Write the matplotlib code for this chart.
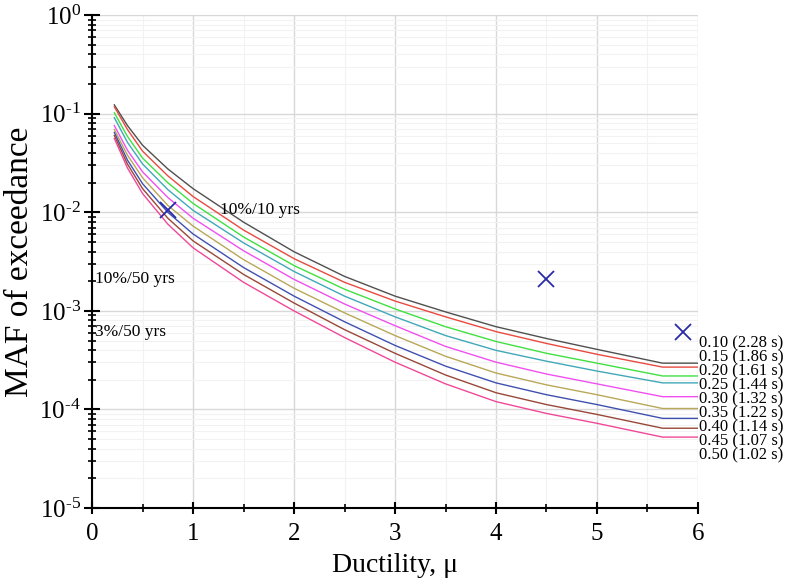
import numpy as np
import matplotlib
matplotlib.use("Agg")
import matplotlib.pyplot as plt
from matplotlib.ticker import LogLocator, MultipleLocator, FuncFormatter, NullFormatter

plt.rcParams["font.family"] = ["Liberation Serif", "DejaVu Serif"]
plt.rcParams["mathtext.fontset"] = "custom"
plt.rcParams["mathtext.rm"] = "Liberation Serif"
plt.rcParams["mathtext.it"] = "Liberation Serif:italic"

# ductility points where the curves were read
ductility = [0.22, 0.35, 0.5, 0.75, 1.0, 1.5, 2.0, 2.5, 3.0, 3.5, 4.0, 4.5, 5.0, 5.65, 6.0]

# log10 of MAF of exceedance, one list per damping/period curve
log_maf = {
    "0.10 (2.28 s)": [-0.91, -1.12, -1.32, -1.56, -1.76, -2.10, -2.40, -2.65, -2.85, -3.01, -3.16, -3.28, -3.39, -3.53, -3.53],
    "0.15 (1.86 s)": [-0.93, -1.16, -1.38, -1.63, -1.84, -2.18, -2.47, -2.71, -2.90, -3.06, -3.21, -3.33, -3.44, -3.57, -3.57],
    "0.20 (1.61 s)": [-0.99, -1.23, -1.45, -1.70, -1.91, -2.25, -2.54, -2.78, -2.98, -3.16, -3.31, -3.43, -3.53, -3.66, -3.66],
    "0.25 (1.44 s)": [-1.04, -1.29, -1.51, -1.77, -1.98, -2.31, -2.60, -2.85, -3.06, -3.25, -3.40, -3.51, -3.61, -3.73, -3.73],
    "0.30 (1.32 s)": [-1.12, -1.37, -1.59, -1.85, -2.06, -2.39, -2.68, -2.93, -3.15, -3.36, -3.52, -3.64, -3.74, -3.87, -3.87],
    "0.35 (1.22 s)": [-1.16, -1.42, -1.65, -1.93, -2.14, -2.48, -2.77, -3.02, -3.25, -3.46, -3.63, -3.75, -3.85, -3.99, -3.99],
    "0.40 (1.14 s)": [-1.19, -1.47, -1.71, -2.00, -2.22, -2.56, -2.85, -3.11, -3.35, -3.56, -3.73, -3.85, -3.95, -4.09, -4.09],
    "0.45 (1.07 s)": [-1.22, -1.51, -1.76, -2.06, -2.29, -2.63, -2.92, -3.19, -3.43, -3.65, -3.83, -3.95, -4.05, -4.19, -4.19],
    "0.50 (1.02 s)": [-1.25, -1.55, -1.81, -2.12, -2.36, -2.71, -3.00, -3.27, -3.52, -3.74, -3.92, -4.04, -4.14, -4.28, -4.28],
}
curve_colors = ["#505050", "#e84a40", "#40e040", "#40a8b8", "#f050f0",
                "#b8a858", "#4050b0", "#984838", "#f04898"]

# hazard levels and demand points
hazard_names = ["10%/10 yrs", "10%/50 yrs", "3%/50 yrs"]
hazard_maf = [0.0105, 0.0021, 0.00061]
demand_mu = [0.75, 4.5, 5.85]


def decade_label(value, pos):
    exp = int(round(np.log10(value)))
    if exp < 0:
        return r"$10^{\text{-}%d}$" % (-exp)
    return r"$10^{%d}$" % exp


fig = plt.figure(figsize=(7.94, 5.82), dpi=100)
ax = fig.add_axes([0.116, 0.127, 0.763, 0.847])

for (name, vals), color in zip(log_maf.items(), curve_colors):
    ax.plot(ductility, 10.0 ** np.array(vals), color=color, lw=1.0)

ax.plot(demand_mu, hazard_maf, linestyle="none", marker="x", markersize=11,
        mew=1.3, color="#2a2aa8")

ax.text(1.27, hazard_maf[0], hazard_names[0], fontsize=12.5, va="center", ha="left")
ax.text(0.03, hazard_maf[1], hazard_names[1], fontsize=12.5, va="center", ha="left")
ax.text(0.03, hazard_maf[2], hazard_names[2], fontsize=12.5, va="center", ha="left")

for i, name in enumerate(log_maf.keys()):
    ax.text(6.01, 10.0 ** (-3.33 - i * 0.142), name, fontsize=12,
            va="center", ha="left", clip_on=False)

ax.set_yscale("log")
ax.set_xlim(0, 6)
ax.set_ylim(1e-5, 1)

ax.xaxis.set_major_locator(MultipleLocator(1))
ax.xaxis.set_minor_locator(MultipleLocator(0.5))
ax.yaxis.set_major_locator(LogLocator(base=10, numticks=10))
ax.yaxis.set_minor_locator(LogLocator(base=10, subs=np.arange(2, 10), numticks=10))
ax.yaxis.set_major_formatter(FuncFormatter(decade_label))
ax.yaxis.set_minor_formatter(NullFormatter())

ax.grid(which="major", color="#d8d8d8", lw=1.0)
ax.grid(which="minor", color="#f2f2f2", lw=0.8)
ax.set_axisbelow(True)

for side in ["top", "right"]:
    ax.spines[side].set_visible(False)
for side in ["left", "bottom"]:
    ax.spines[side].set_linewidth(1.5)

ax.tick_params(which="major", direction="inout", length=9, width=1.5, labelsize=18)
ax.tick_params(which="minor", direction="inout", length=6, width=1.2)
ax.tick_params(axis="y", which="major", length=12, pad=2)
ax.tick_params(axis="x", which="major", pad=6)

ax.set_xlabel("Ductility, \u03bc", fontsize=20, labelpad=6)
ax.set_ylabel("MAF of exceedance", fontsize=24, labelpad=3)

fig.savefig("out.png", dpi=100)
plt.close(fig)
